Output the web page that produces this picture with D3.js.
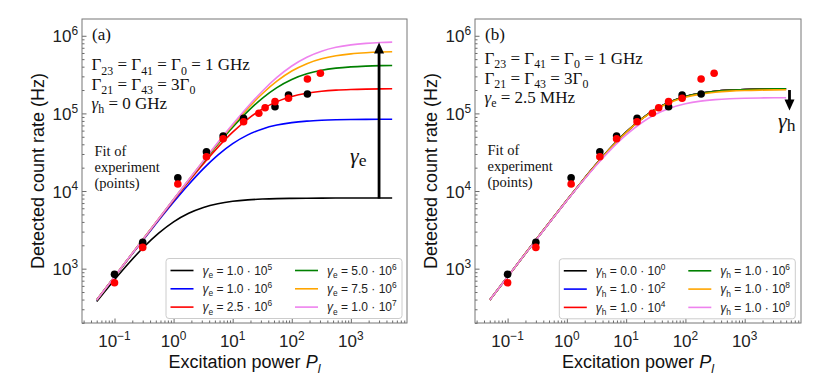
<!DOCTYPE html>
<html><head><meta charset="utf-8">
<script src="https://cdn.jsdelivr.net/npm/d3@7"></script>
<style>body{margin:0;background:#fff}svg{display:block}text{white-space:pre}</style>
</head><body>
<svg id="chart" width="830" height="382"></svg>
<script>
// ---------- data ----------
const powerGrid = [0.05, 0.1, 0.18, 0.32, 0.56, 1, 1.8, 3.2, 5.6, 10, 18, 32, 56, 100, 180, 320, 560, 1000, 1800, 3200, 5000];

// panel (a): varying gamma_e
const fitA_ge1e5   = [377, 720, 1210, 1930, 2865, 4010, 5175, 6155, 6870, 7380, 7700, 7880, 7990, 8050, 8090, 8110, 8120, 8130, 8130, 8135, 8135];
const fitA_ge1e6   = [393, 783, 1398, 2454, 4203, 7223, 12165, 19446, 29004, 40764, 52890, 63168, 70750, 76100, 79504, 81496, 82645, 83324, 83716, 83931, 84035];
const fitA_ge2_5e6 = [394, 787, 1412, 2498, 4332, 7612, 13312, 22547, 36498, 57296, 84552, 114280, 141740, 164996, 181888, 192668, 199190, 203190, 205550, 206874, 207460];
const fitA_ge5e6   = [395, 789, 1417, 2513, 4378, 7754, 13753, 23840, 40012, 66461, 106150, 157630, 215110, 273660, 323460, 359210, 382500, 397620, 406720, 411880, 414300];
const fitA_ge7_5e6 = [395, 789, 1419, 2518, 4393, 7802, 13907, 24308, 41346, 70222, 116082, 180571, 260235, 351111, 437538, 505600, 553000, 585185, 605106, 616585, 622047];
const fitA_ge1e7   = [395, 789, 1420, 2520, 4401, 7827, 13985, 24546, 42040, 72247, 121723, 194601, 290410, 408357, 530154, 633480, 709700, 763595, 797878, 817950, 827590];

// panel (b): varying gamma_h
const fitB_gh0   = [394, 787, 1412, 2498, 4332, 7612, 13312, 22547, 36498, 57296, 84552, 114280, 141740, 164996, 181888, 192668, 199190, 203190, 205550, 206874, 207460];
const fitB_gh1e2 = [394, 787, 1412, 2498, 4332, 7612, 13312, 22547, 36498, 57296, 84552, 114280, 141740, 164996, 181888, 192668, 199190, 203190, 205550, 206874, 207460];
const fitB_gh1e4 = [394, 787, 1412, 2498, 4332, 7612, 13312, 22547, 36498, 57296, 84552, 114280, 141740, 164996, 181888, 192668, 199190, 203190, 205550, 206874, 207460];
const fitB_gh1e6 = [394, 787, 1412, 2498, 4332, 7612, 13312, 22547, 36498, 57296, 84552, 114280, 141740, 164996, 181888, 192668, 199190, 203190, 205550, 206874, 207460];
const fitB_gh1e8 = [394, 787, 1412, 2497, 4329, 7603, 13286, 22471, 36299, 56809, 83495, 112356, 138792, 161028, 177064, 187259, 193399, 197204, 199411, 200635, 201222];
const fitB_gh1e9 = [394, 786, 1409, 2489, 4305, 7528, 13059, 21831, 34656, 52885, 75282, 97977, 117491, 133041, 143796, 150458, 154393, 156808, 158194, 158973, 159339];

// experimental points
const expBlackP = [0.1, 0.3, 1.18, 3.6, 6.9, 15.3, 52, 88, 184];
const expBlackC = [845, 2180, 14800, 32100, 51100, 86500, 122000, 172700, 178000];
const expRedP   = [0.1, 0.3, 1.18, 3.6, 6.9, 15.3, 27.7, 35.4, 52, 88, 184, 305];
const expRedC   = [658, 1880, 12300, 27700, 47200, 78200, 100300, 118300, 141600, 156700, 277000, 329000];

const seriesColors = ["black", "blue", "red", "green", "orange", "violet"];
const legendA_mant = ["1.0", "1.0", "2.5", "5.0", "7.5", "1.0"];
const legendA_exp  = ["5", "6", "6", "6", "6", "7"];
const legendB_mant = ["0.0", "1.0", "1.0", "1.0", "1.0", "1.0"];
const legendB_exp  = ["0", "2", "4", "6", "8", "9"];
const xTickExp = [-1, 0, 1, 2, 3];
const yTickExp = [3, 4, 5, 6];

// ---------- drawing ----------
const svg = d3.select("#chart");
const SERIF = "'Liberation Serif', 'Times New Roman', serif";
const SANS = "'Liberation Sans', Arial, sans-serif";
const TOP = 19, BOTTOM = 323;

function rich(textSel, parts, size) {
  let shift = 0;
  parts.forEach(p => {
    const ts = textSel.append("tspan").text(p.t);
    const target = p.sub ? size * (p.subDrop || 0.28) : p.sup ? -size * 0.42 : 0;
    const dy = target - shift; shift = target;
    if (dy) ts.attr("dy", dy);
    if (p.sub || p.sup) ts.attr("font-size", size * (p.scale || 0.7));
    if (p.italic) ts.attr("font-style", "italic");
  });
  return textSel;
}

function drawPanel(cfg) {
  const x = d3.scaleLog().domain([10 ** -1.55, 10 ** 3.95]).range([cfg.x0, cfg.x1]);
  const y = d3.scaleLog().domain([10 ** 2.3, 10 ** 6.216]).range([BOTTOM, TOP]);
  const g = svg.append("g");

  // minor ticks
  const xMinor = [], yMinor = [];
  for (let e = -2; e <= 3; e++) for (let m = 2; m <= 9; m++) {
    const v = m * 10 ** e;
    if (v > x.domain()[0] && v < x.domain()[1]) xMinor.push(v);
  }
  for (let e = 2; e <= 6; e++) for (let m = 2; m <= 9; m++) {
    const v = m * 10 ** e;
    if (v > y.domain()[0] && v < y.domain()[1]) yMinor.push(v);
  }
  const axX = g.append("g").attr("transform", `translate(0,${BOTTOM})`);
  axX.call(d3.axisBottom(x).tickValues(xMinor).tickSize(-2.5).tickFormat(""));
  axX.append("g").call(d3.axisBottom(x).tickValues(xTickExp.map(e => 10 ** e)).tickSize(-4.5).tickFormat(""));
  const axY = g.append("g").attr("transform", `translate(${cfg.x0},0)`);
  axY.call(d3.axisLeft(y).tickValues(yMinor).tickSize(-2.5).tickFormat(""));
  axY.append("g").call(d3.axisLeft(y).tickValues(yTickExp.map(e => 10 ** e)).tickSize(-4.5).tickFormat(""));
  g.selectAll(".domain").remove();
  g.selectAll(".tick line").attr("stroke", "#444").attr("stroke-width", 0.8);

  // tick labels
  xTickExp.forEach(e => {
    const t = g.append("text").attr("x", x(10 ** e)).attr("y", BOTTOM + 24)
      .attr("text-anchor", "middle").attr("font-family", SANS).attr("font-size", 17).attr("fill", "#222");
    rich(t, [{t: "10"}, {t: e < 0 ? "\u2212" + (-e) : String(e), sup: true}], 17);
  });
  yTickExp.forEach(e => {
    const t = g.append("text").attr("x", cfg.x0 - 4).attr("y", y(10 ** e) + 6.5)
      .attr("text-anchor", "end").attr("font-family", SANS).attr("font-size", 17).attr("fill", "#222");
    rich(t, [{t: "10"}, {t: String(e), sup: true}], 17);
  });

  // frame
  g.append("rect").attr("x", cfg.x0).attr("y", TOP).attr("width", cfg.x1 - cfg.x0).attr("height", BOTTOM - TOP)
    .attr("fill", "none").attr("stroke", "#777").attr("stroke-width", 1);

  // axis titles
  const xl = g.append("text").attr("x", (cfg.x0 + cfg.x1) / 2).attr("y", 367.5).attr("text-anchor", "middle")
    .attr("font-family", SANS).attr("font-size", 18).attr("fill", "#111");
  rich(xl, [{t: "Excitation power "}, {t: "P", italic: true}, {t: "l", sub: true, italic: true}], 18);
  g.append("text").attr("transform", `translate(${cfg.ylabX},${(TOP + BOTTOM) / 2}) rotate(-90)`)
    .attr("text-anchor", "middle").attr("font-family", SANS).attr("font-size", 18).attr("fill", "#111")
    .text("Detected count rate (Hz)");

  // curves
  const line = d3.line().x(d => x(d[0])).y(d => y(d[1])).curve(d3.curveMonotoneX);
  cfg.curves.forEach((arr, i) => {
    g.append("path").datum(d3.zip(powerGrid, arr)).attr("d", line)
      .attr("fill", "none").attr("stroke", seriesColors[i]).attr("stroke-width", 1.6);
  });

  // experimental points
  g.append("g").selectAll("circle").data(d3.zip(expBlackP, expBlackC)).join("circle")
    .attr("cx", d => x(d[0])).attr("cy", d => y(d[1])).attr("r", 3.8).attr("fill", "black");
  g.append("g").selectAll("circle").data(d3.zip(expRedP, expRedC)).join("circle")
    .attr("cx", d => x(d[0])).attr("cy", d => y(d[1])).attr("r", 3.8).attr("fill", "red");

  // annotations
  g.append("text").attr("x", cfg.x0 + 10).attr("y", 40).attr("font-family", SERIF).attr("font-size", 17)
    .attr("fill", "#111").text(cfg.letter);
  cfg.notes.forEach((n, i) => {
    const t = g.append("text").attr("x", cfg.x0 + 9.5).attr("y", cfg.noteY[i]).attr("font-family", SERIF)
      .attr("font-size", 17).attr("fill", "#111");
    rich(t, n, 17);
  });
  ["Fit of", "experiment", "(points)"].forEach((s, i) => {
    g.append("text").attr("x", cfg.x0 + 12.5).attr("y", cfg.fitY + 16 * i).attr("font-family", SERIF)
      .attr("font-size", 14.5).attr("fill", "#111").text(s);
  });

  // arrow
  const ax = x(cfg.arrow.p), ya = y(cfg.arrow.from), yb = y(cfg.arrow.to);
  const dir = yb < ya ? -1 : 1;
  g.append("line").attr("x1", ax).attr("x2", ax).attr("y1", ya).attr("y2", yb - dir * 9)
    .attr("stroke", "black").attr("stroke-width", 2.8);
  g.append("path").attr("d", `M${ax},${yb} L${ax - 5},${yb - dir * 11} L${ax + 5},${yb - dir * 11} Z`).attr("fill", "black");
  const gl = g.append("text").attr("x", cfg.gammaPos[0]).attr("y", cfg.gammaPos[1]).attr("font-family", SERIF)
    .attr("font-size", 22).attr("fill", "#111");
  rich(gl, [{t: "\u03b3", italic: true}, {t: cfg.sym, sub: true, subDrop: 0.15, scale: 0.8}], 22);

  // legend
  const lx = cfg.legend[0], ly = cfg.legend[1];
  g.append("rect").attr("x", lx).attr("y", ly).attr("width", 236).attr("height", 60).attr("rx", 3)
    .attr("fill", "white").attr("fill-opacity", 0.85).attr("stroke", "#cccccc").attr("stroke-width", 1);
  seriesColors.forEach((c, i) => {
    const col = Math.floor(i / 3), row = i % 3;
    const hx = lx + 4.5 + col * 124.5, hy = ly + 12 + row * 18.3;
    g.append("line").attr("x1", hx).attr("x2", hx + 23).attr("y1", hy).attr("y2", hy)
      .attr("stroke", c).attr("stroke-width", 1.6);
    const t = g.append("text").attr("x", hx + 32).attr("y", hy + 4.3).attr("font-family", SANS)
      .attr("font-size", 12).attr("fill", "#222");
    rich(t, [{t: "\u03b3", italic: true}, {t: cfg.sym, sub: true}, {t: " = " + cfg.mant[i] + " \u00b7 10"}, {t: cfg.exp[i], sup: true}], 12);
  });
}

drawPanel({
  x0: 82, x1: 407, ylabX: 44, letter: "(a)",
  curves: [fitA_ge1e5, fitA_ge1e6, fitA_ge2_5e6, fitA_ge5e6, fitA_ge7_5e6, fitA_ge1e7],
  notes: [
    [{t: "\u0393"}, {t: "23", sub: true}, {t: " = \u0393"}, {t: "41", sub: true}, {t: " = \u0393"}, {t: "0", sub: true}, {t: " = 1 GHz"}],
    [{t: "\u0393"}, {t: "21", sub: true}, {t: " = \u0393"}, {t: "43", sub: true}, {t: " = 3\u0393"}, {t: "0", sub: true}],
    [{t: "\u03b3", italic: true}, {t: "h", sub: true}, {t: " = 0 GHz"}]
  ],
  noteY: [70, 89.5, 108.5], fitY: 156,
  arrow: {p: 3000, from: 8000, to: 820000}, sym: "e", gammaPos: [350, 162.5],
  legend: [166, 258.5], mant: legendA_mant, exp: legendA_exp
});
drawPanel({
  x0: 475, x1: 801, ylabX: 437, letter: "(b)",
  curves: [fitB_gh0, fitB_gh1e2, fitB_gh1e4, fitB_gh1e6, fitB_gh1e8, fitB_gh1e9],
  notes: [
    [{t: "\u0393"}, {t: "23", sub: true}, {t: " = \u0393"}, {t: "41", sub: true}, {t: " = \u0393"}, {t: "0", sub: true}, {t: " = 1 GHz"}],
    [{t: "\u0393"}, {t: "21", sub: true}, {t: " = \u0393"}, {t: "43", sub: true}, {t: " = 3\u0393"}, {t: "0", sub: true}],
    [{t: "\u03b3", italic: true}, {t: "e", sub: true}, {t: " = 2.5 MHz"}]
  ],
  noteY: [63.5, 83.5, 102.5], fitY: 155,
  arrow: {p: 5700, from: 200000, to: 109000}, sym: "h", gammaPos: [778, 127.5],
  legend: [559.3, 258.8], mant: legendB_mant, exp: legendB_exp
});
</script>
</body></html>
